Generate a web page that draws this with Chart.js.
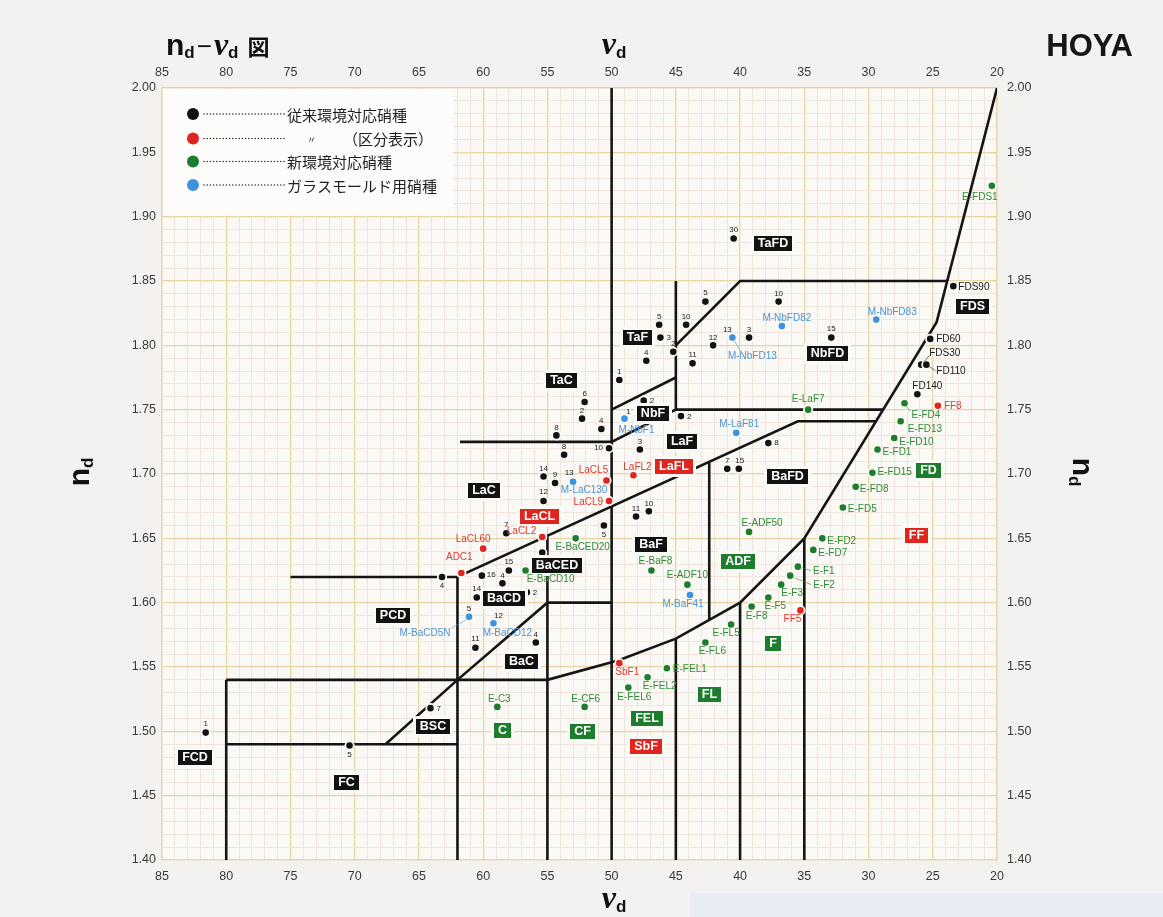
<!DOCTYPE html>
<html>
<head>
<meta charset="utf-8">
<script src="https://cdn.jsdelivr.net/npm/chart.js@4.4.1/dist/chart.umd.min.js"></script>
<style>
  html, body { margin: 0; padding: 0; background: #f4f2f1; }
  #wrap { position: relative; width: 1163px; height: 917px; }
  canvas { display: block; }
</style>
</head>
<body>
<div id="wrap"><canvas id="abbe" width="1163" height="917"></canvas></div>
<script>
// ---- axis tick labels ----
const xTickLabels = [85, 80, 75, 70, 65, 60, 55, 50, 45, 40, 35, 30, 25, 20];
const yTickLabels = ['1.40', '1.45', '1.50', '1.55', '1.60', '1.65', '1.70', '1.75', '1.80', '1.85', '1.90', '1.95', '2.00'];

// ---- conventional glasses (black), numbered ----
const stdNums = ['30', '5', '5', '10', '3', '2', '4', '11', '12', '3', '10', '15', '1', '2', '2', '6', '2', '4', '8', '8',
                 '10', '3', '8', '7', '15', '14', '9', '12', '7', '18', '11', '10', '5', '4', '16', '15', '4', '2', '14', '4',
                 '11', '7', '5', '1'];
const stdVd = [40.5, 42.7, 46.3, 44.2, 46.2, 45.2, 47.3, 43.7, 42.1, 39.3, 37.0, 32.9, 49.4, 47.5, 44.6, 52.1, 52.3, 50.8, 54.3, 53.7,
               50.2, 47.8, 37.8, 41.0, 40.1, 55.3, 54.4, 55.3, 58.2, 55.4, 48.1, 47.1, 50.6, 63.2, 60.1, 58.0, 58.5, 56.6, 60.5, 55.9,
               60.6, 64.1, 70.4, 81.6];
const stdNd = [1.883, 1.834, 1.816, 1.816, 1.806, 1.795, 1.788, 1.786, 1.800, 1.806, 1.834, 1.806, 1.773, 1.757, 1.745, 1.756, 1.743, 1.735, 1.730, 1.715,
               1.720, 1.719, 1.724, 1.704, 1.704, 1.698, 1.693, 1.679, 1.654, 1.639, 1.667, 1.671, 1.660, 1.620, 1.621, 1.625, 1.615, 1.608, 1.604, 1.569,
               1.565, 1.518, 1.489, 1.499];

// ---- conventional glasses (black), named ----
const stdNames = ['FDS90', 'FD60', 'FDS30', 'FD110', 'FD140'];
const stdNamedVd = [23.4, 25.2, 25.9, 25.5, 26.2];
const stdNamedNd = [1.846, 1.805, 1.785, 1.785, 1.762];

// ---- same family, shown by category (red) ----
const catNames = ['LaCL5', 'LaFL2', 'LaCL9', 'LaCL2', 'LaCL60', 'ADC1', 'SbF1', 'FF8', 'FF5'];
const catVd = [50.4, 48.3, 50.2, 55.4, 60.0, 61.7, 49.4, 24.6, 35.3];
const catNd = [1.695, 1.699, 1.679, 1.651, 1.642, 1.623, 1.553, 1.753, 1.594];

// ---- eco glasses (green) ----
const ecoNames = ['E-FDS1', 'E-LaF7', 'E-FD4', 'E-FD13', 'E-FD10', 'E-FD1', 'E-FD15', 'E-FD8', 'E-FD5', 'E-FD2', 'E-FD7',
                  'E-F1', 'E-F2', 'E-F3', 'E-F5', 'E-F8', 'E-ADF50', 'E-BaF8', 'E-ADF10', 'E-FL5', 'E-FL6',
                  'E-FEL1', 'E-FEL2', 'E-FEL6', 'E-C3', 'E-CF6', 'E-BaCED20', 'E-BaCD10'];
const ecoVd = [20.4, 34.7, 27.2, 27.5, 28.0, 29.3, 29.7, 31.0, 32.0, 33.6, 34.3,
               35.5, 36.1, 36.8, 37.8, 39.1, 39.3, 46.9, 44.1, 40.7, 42.7,
               45.7, 47.2, 48.7, 58.9, 52.1, 52.8, 56.7];
const ecoNd = [1.924, 1.750, 1.755, 1.741, 1.728, 1.719, 1.701, 1.690, 1.674, 1.650, 1.641,
               1.628, 1.621, 1.614, 1.604, 1.597, 1.655, 1.625, 1.614, 1.583, 1.569,
               1.549, 1.542, 1.534, 1.519, 1.519, 1.650, 1.625];

// ---- glasses for precision moulding (blue) ----
const moldNames = ['M-NbFD82', 'M-NbFD83', 'M-NbFD13', 'M-NbF1', 'M-LaF81', 'M-LaC130', 'M-BaF41', 'M-BaCD5N', 'M-BaCD12'];
const moldNums = ['', '', '13', '1', '', '13', '', '5', '12'];
const moldVd = [36.75, 29.4, 40.6, 49.0, 40.3, 53.0, 43.9, 61.1, 59.2];
const moldNd = [1.815, 1.820, 1.806, 1.743, 1.732, 1.694, 1.606, 1.589, 1.584];

// ---- glass type regions ----
const regionNames = ['TaFD', 'FDS', 'TaF', 'NbFD', 'TaC', 'NbF', 'LaF', 'LaFL', 'BaFD', 'FD', 'LaC', 'LaCL', 'BaF', 'BaCED',
                     'ADF', 'FF', 'BaCD', 'PCD', 'F', 'BaC', 'FL', 'BSC', 'FEL', 'C', 'CF', 'SbF', 'FCD', 'FC'];
const regionVd = [37.4, 21.9, 48.0, 33.2, 53.9, 46.8, 44.5, 45.15, 36.3, 25.3, 59.9, 55.65, 46.95, 54.25,
                  40.2, 26.3, 58.4, 67.0, 37.45, 57.0, 42.35, 63.9, 47.25, 58.5, 52.3, 47.3, 82.4, 70.6];
const regionNd = [1.879, 1.830, 1.806, 1.794, 1.773, 1.747, 1.725, 1.706, 1.698, 1.7025, 1.687, 1.667, 1.6455, 1.629,
                  1.632, 1.652, 1.603, 1.590, 1.5686, 1.5546, 1.529, 1.504, 1.5096, 1.501, 1.4995, 1.4886, 1.480, 1.460];
const regionTone = ['k', 'k', 'k', 'k', 'k', 'k', 'k', 'r', 'k', 'g', 'k', 'r', 'k', 'k',
                    'g', 'r', 'k', 'k', 'g', 'k', 'g', 'k', 'g', 'g', 'g', 'r', 'k', 'k'];

// ---- region boundary lines (vd, nd) ----
const edgeMain  = [[80, 1.54], [55, 1.54], [49.5, 1.555], [45, 1.572], [40, 1.60], [35, 1.65], [24.7, 1.818], [20, 2.00]];
const edgeFC    = [[80, 1.49], [62, 1.49]];
const edgeFCD   = [[80, 1.40], [80, 1.54]];
const edgeBSC   = [[67.6, 1.49], [62, 1.54], [55, 1.60], [50, 1.60]];
const edgePCD   = [[75, 1.62], [62, 1.62]];
const edgeV62   = [[62, 1.40], [62, 1.62]];
const edgeLaCL  = [[62, 1.62], [35.5, 1.741], [29.4, 1.741]];
const edgeV55   = [[55, 1.40], [55, 1.652]];
const edgeV50   = [[50, 1.40], [50, 2.00]];
const edgeV45   = [[45, 1.40], [45, 1.572]];
const edgeV42   = [[42.4, 1.587], [42.4, 1.709]];
const edgeV40   = [[40, 1.40], [40, 1.60]];
const edgeV35   = [[35, 1.40], [35, 1.65]];
const edgeLaC   = [[61.8, 1.725], [50, 1.725], [45, 1.75], [28.87, 1.75]];
const edgeNbF   = [[50, 1.75], [45, 1.775]];
const edgeV45Up = [[45, 1.75], [45, 1.85]];
const edgeTaF   = [[45, 1.80], [40, 1.85], [23.87, 1.85]];
const edges = [edgeMain, edgeFC, edgeFCD, edgeBSC, edgePCD, edgeV62, edgeLaCL, edgeV55, edgeV50,
               edgeV45, edgeV42, edgeV40, edgeV35, edgeLaC, edgeNbF, edgeV45Up, edgeTaF];

// ---- label placement (pixel offsets from the dot, text alignment, optional leader) ----
const stdNumPlace = [[0,-9,'center'],[0,-9,'center'],[0,-8,'center'],[0,-8,'center'],[6,0,'left'],[0,-8,'center'],[0,-8,'center'],
  [0,-9,'center'],[0,-8,'center'],[0,-8,'center'],[0,-8,'center'],[0,-9,'center'],[0,-8,'center'],[6,0,'left'],[6,1,'left'],
  [0,-8,'center'],[0,-8,'center'],[0,-8,'center'],[0,-8,'center'],[0,-8,'center'],[-6,0,'right'],[0,-8,'center'],[6,0,'left'],
  [0,-8,'center'],[1,-8,'center'],[0,-8,'center'],[0,-8,'center'],[0,-9,'center'],[0,-8,'center'],[0,8,'center'],[0,-8,'center'],
  [0,-8,'center'],[0,9,'center'],[0,9,'center'],[5,-1,'left'],[0,-9,'center'],[0,-8,'center'],[6,0,'left'],[0,-9,'center'],
  [0,-8,'center'],[0,-9,'center'],[6,1,'left'],[0,9,'center'],[0,-9,'center']];
const stdNamePlace = [[5,1,'left'],[6,0,'left'],[8,-11,'left',[3,-3,8,-9]],[10,7,'left',[3,2,9,6]],[10,-8,'center']];
const catPlace = [[-13,-10,'center'],[4,-8,'center'],[-6,1,'right'],[-6,-6,'right'],[-10,-9,'center'],[-2,-16,'center'],
  [8,9,'center'],[6,0,'left'],[-8,9,'center']];
const ecoPlace = [[-12,11,'center'],[0,-10,'center'],[7,12,'left',[2,3,6,8]],[7,8,'left'],[5,4,'left'],[5,3,'left'],[5,0,'left'],
  [4,2,'left'],[5,2,'left'],[5,3,'left'],[5,3,'left'],[15,5,'left',[4,1,13,4]],[23,10,'left',[4,2,21,9]],[11,9,'center'],
  [7,9,'center'],[5,10,'center'],[13,-9,'center'],[4,-9,'center'],[0,-9,'center'],[-5,9,'center'],[7,9,'center'],[6,1,'left'],
  [12,9,'center'],[6,10,'center'],[2,-8,'center'],[1,-8,'center'],[7,9,'center'],[25,9,'center']];
const moldPlace = [[5,-8,'center'],[16,-7,'center'],[20,19,'center',[2,3,8,13]],[12,12,'center'],[3,-9,'center'],[11,9,'center'],
  [-7,9,'center'],[-44,16,'center',[-3,3,-17,11]],[14,10,'center']];
const moldNumPlace = [null, null, [-5,-8], [4,-7], null, [-4,-9], null, [0,-8], [5,-7]];

// ---- colours ----
const PAPER = '#fbf9f5', MAJOR = '#e6d5a6', MINOR = '#f0e5dc';
const INK = { k: '#121212', r: '#e0241e', g: '#1d7d2c', b: '#3d92de' };
const TXT = { k: '#1a1a1a', r: '#dd3a32', g: '#2f8a3a', b: '#4b95d8' };
const SANS = '"Liberation Sans", Arial, sans-serif';
const CJK = '"Noto Sans CJK JP", sans-serif';

const pts = (vx, vy) => vx.map((v, i) => ({ x: v, y: vy[i] }));

const edgeSets = edges.map(e => ({
  type: 'scatter', label: '', data: e.map(p => ({ x: p[0], y: p[1] })),
  showLine: true, borderColor: '#151515', borderWidth: 2.6, pointRadius: 0, order: 5, tension: 0
}));

const dotStyle = (col) => ({
  pointRadius: 4.2, pointBackgroundColor: col, pointBorderColor: PAPER, pointBorderWidth: 1.8,
  showLine: false, order: 1
});

const glassSets = [
  Object.assign({ type: 'scatter', label: '従来環境対応硝種', tone: 'k',
    data: pts(stdVd.concat(stdNamedVd), stdNd.concat(stdNamedNd)) }, dotStyle(INK.k)),
  Object.assign({ type: 'scatter', label: '〃\t（区分表示）', tone: 'r', data: pts(catVd, catNd) }, dotStyle(INK.r)),
  Object.assign({ type: 'scatter', label: '新環境対応硝種', tone: 'g', data: pts(ecoVd, ecoNd) }, dotStyle(INK.g)),
  Object.assign({ type: 'scatter', label: 'ガラスモールド用硝種', tone: 'b', data: pts(moldVd, moldNd) }, dotStyle(INK.b))
];

function tag(ctx, text, px, py, place, font, color) {
  const [dx, dy, align, lead] = place;
  if (lead) {
    ctx.save();
    ctx.strokeStyle = color; ctx.globalAlpha = 0.75; ctx.lineWidth = 0.8;
    ctx.beginPath(); ctx.moveTo(px + lead[0], py + lead[1]); ctx.lineTo(px + lead[2], py + lead[3]); ctx.stroke();
    ctx.restore();
  }
  ctx.font = font; ctx.fillStyle = color; ctx.textAlign = align; ctx.textBaseline = 'middle';
  ctx.fillText(text, px + dx, py + dy);
}

function run(ctx, parts, x, y) {
  // draws a sequence of text runs along a baseline, returns the end x
  let cx = x;
  parts.forEach(p => {
    ctx.font = p.f; ctx.fillStyle = p.c || '#111'; ctx.textAlign = 'left'; ctx.textBaseline = 'alphabetic';
    ctx.fillText(p.t, cx, y + (p.dy || 0));
    cx += ctx.measureText(p.t).width + (p.gap || 0);
  });
  return cx;
}
function runWidth(ctx, parts) {
  let w = 0;
  parts.forEach(p => { ctx.font = p.f; w += ctx.measureText(p.t).width + (p.gap || 0); });
  return w;
}

const sheet = {
  id: 'sheet',
  beforeDraw(chart) {
    const { ctx, chartArea: a } = chart;
    ctx.save();
    ctx.fillStyle = '#f4f2f1';
    ctx.fillRect(0, 0, chart.width, chart.height);
    ctx.fillStyle = '#e7ecf5';
    ctx.fillRect(690, 893, chart.width - 690, chart.height - 893);
    ctx.fillStyle = PAPER;
    ctx.fillRect(a.left, a.top, a.right - a.left, a.bottom - a.top);
    ctx.restore();
  },
  beforeDatasetsDraw(chart) {
    // blank panel that carries the legend
    const { ctx, scales: { x, y } } = chart;
    const l = x.getPixelForValue(85), r = x.getPixelForValue(62.3);
    const t = y.getPixelForValue(2.0), b = y.getPixelForValue(1.90);
    ctx.save();
    ctx.fillStyle = '#fdfcfa';
    ctx.fillRect(l + 1, t + 1, r - l - 1, b - t - 2);
    ctx.restore();
  },
  afterDatasetsDraw(chart) {
    const { ctx, scales: { x, y } } = chart;
    ctx.save();
    // region name boxes
    regionNames.forEach((name, i) => {
      const cx = x.getPixelForValue(regionVd[i]), cy = y.getPixelForValue(regionNd[i]);
      ctx.font = 'bold 12.5px ' + SANS;
      const w = Math.round(ctx.measureText(name).width + 8), h = 15;
      const lx = Math.round(cx - w / 2), ty = Math.round(cy - h / 2);
      ctx.fillStyle = PAPER;
      ctx.fillRect(lx - 3, ty - 3, w + 6, h + 6);
      ctx.fillStyle = INK[regionTone[i]];
      ctx.fillRect(lx, ty, w, h);
      ctx.fillStyle = '#ffffff'; ctx.textAlign = 'center'; ctx.textBaseline = 'middle';
      ctx.fillText(name, lx + w / 2, ty + h / 2 + 0.5);
    });

    const NUM = '8px ' + SANS, NAME = '10px ' + SANS;
    stdNums.forEach((n, i) => tag(ctx, n, x.getPixelForValue(stdVd[i]), y.getPixelForValue(stdNd[i]), stdNumPlace[i], NUM, '#222'));
    stdNames.forEach((n, i) => tag(ctx, n, x.getPixelForValue(stdNamedVd[i]), y.getPixelForValue(stdNamedNd[i]), stdNamePlace[i], NAME, TXT.k));
    catNames.forEach((n, i) => tag(ctx, n, x.getPixelForValue(catVd[i]), y.getPixelForValue(catNd[i]), catPlace[i], NAME, TXT.r));
    ecoNames.forEach((n, i) => tag(ctx, n, x.getPixelForValue(ecoVd[i]), y.getPixelForValue(ecoNd[i]), ecoPlace[i], NAME, TXT.g));
    moldNames.forEach((n, i) => {
      const px = x.getPixelForValue(moldVd[i]), py = y.getPixelForValue(moldNd[i]);
      tag(ctx, n, px, py, moldPlace[i], NAME, TXT.b);
      if (moldNums[i]) tag(ctx, moldNums[i], px, py, [moldNumPlace[i][0], moldNumPlace[i][1], 'center'], NUM, '#222');
    });

    // legend
    const lx = 193, rows = [114, 138.5, 161.5, 185];
    chart.data.datasets.filter(d => d.tone).forEach((d, i) => {
      const yy = rows[i];
      ctx.fillStyle = INK[d.tone];
      ctx.beginPath(); ctx.arc(lx, yy, 6, 0, Math.PI * 2); ctx.fill();
      ctx.fillStyle = '#333';
      for (let dx = 204; dx <= 284; dx += 3.2) { ctx.beginPath(); ctx.arc(dx, yy, 0.8, 0, Math.PI * 2); ctx.fill(); }
      ctx.fillStyle = '#1e1e1e'; ctx.textAlign = 'left'; ctx.textBaseline = 'middle';
      const parts = d.label.split('\t');
      if (parts.length > 1) {
        ctx.font = '9px ' + CJK; ctx.fillText(parts[0], 307, yy + 1);
        ctx.font = '15px ' + CJK; ctx.fillText(parts[1], 343, yy + 1);
      } else {
        ctx.font = '15px ' + CJK; ctx.fillText(parts[0], 287, yy + 1);
      }
    });
    ctx.restore();
  },
  afterDraw(chart) {
    const { ctx } = chart;
    ctx.save();
    const B = 'bold 30px ' + SANS, SUB = 'bold 17px ' + SANS, NU = 'italic bold 32px "Liberation Serif", serif';
    // diagram title
    run(ctx, [
      { t: 'n', f: B }, { t: 'd', f: SUB, dy: 3, gap: 2 }, { t: '−', f: '26px ' + SANS, gap: 2 },
      { t: 'ν', f: NU }, { t: 'd', f: SUB, dy: 3, gap: 9 }, { t: '図', f: 'bold 22px ' + CJK }
    ], 166, 55);
    // vendor mark
    ctx.font = 'bold 31px ' + SANS; ctx.fillStyle = '#161616'; ctx.textAlign = 'right'; ctx.textBaseline = 'alphabetic';
    ctx.fillText('HOYA', 1133, 56);
    // ν_d on top and bottom
    const nuParts = [{ t: 'ν', f: NU }, { t: 'd', f: SUB, dy: 4 }];
    const wNu = runWidth(ctx, nuParts);
    run(ctx, nuParts, 614 - wNu / 2, 54);
    run(ctx, nuParts, 614 - wNu / 2, 908);
    // n_d on both sides
    const ndParts = [{ t: 'n', f: 'bold 30px ' + SANS }, { t: 'd', f: SUB, dy: 4 }];
    const wNd = runWidth(ctx, ndParts);
    ctx.save(); ctx.translate(89, 472); ctx.rotate(-Math.PI / 2); run(ctx, ndParts, -wNd / 2, 0); ctx.restore();
    ctx.save(); ctx.translate(1073, 472); ctx.rotate(Math.PI / 2); run(ctx, ndParts, -wNd / 2, 0); ctx.restore();
    ctx.restore();
  }
};

const tickFont = { family: '"Liberation Sans", Arial, sans-serif', size: 12.5 };
const xLabel = v => { const r = Math.round(v); return xTickLabels.includes(r) && Math.abs(v - r) < 1e-6 ? String(r) : ''; };
const yLabel = v => { const s = v.toFixed(2); return yTickLabels.includes(s) && Math.abs(v - parseFloat(s)) < 1e-6 ? s : ''; };
const xGridCol = c => (c.tick && Math.round(c.tick.value) % 5 === 0) ? MAJOR : MINOR;
const yGridCol = c => (c.tick && Math.round(c.tick.value * 100) % 5 === 0) ? MAJOR : MINOR;
const xGridW = c => (c.tick && Math.round(c.tick.value) % 5 === 0) ? 1.3 : 1;
const yGridW = c => (c.tick && Math.round(c.tick.value * 100) % 5 === 0) ? 1.3 : 1;

new Chart(document.getElementById('abbe'), {
  type: 'scatter',
  data: { datasets: glassSets.concat(edgeSets) },
  options: {
    responsive: false, animation: false, devicePixelRatio: 1, events: [],
    layout: { padding: 0 },
    plugins: { legend: { display: false }, tooltip: { enabled: false }, title: { display: false } },
    scales: {
      x: {
        type: 'linear', position: 'bottom', min: 20, max: 85, reverse: true,
        afterFit: s => { s.height = 57; },
        ticks: { stepSize: 1, autoSkip: false, maxRotation: 0, padding: 9, color: '#3a3a3a', font: tickFont, callback: xLabel },
        grid: { color: xGridCol, lineWidth: xGridW, drawTicks: false },
        border: { display: true, color: MAJOR, width: 1.3 }
      },
      xTop: {
        type: 'linear', position: 'top', min: 20, max: 85, reverse: true,
        afterFit: s => { s.height = 88; },
        ticks: { stepSize: 1, autoSkip: false, maxRotation: 0, padding: 8, color: '#3a3a3a', font: tickFont, callback: xLabel },
        grid: { display: false, drawTicks: false },
        border: { display: true, color: MAJOR, width: 1.3 }
      },
      y: {
        type: 'linear', position: 'left', min: 1.40, max: 2.00,
        afterFit: s => { s.width = 162; },
        ticks: { stepSize: 0.01, autoSkip: false, padding: 6, color: '#3a3a3a', font: tickFont, callback: yLabel },
        grid: { color: yGridCol, lineWidth: yGridW, drawTicks: false },
        border: { display: true, color: MAJOR, width: 1.3 }
      },
      yRight: {
        type: 'linear', position: 'right', min: 1.40, max: 2.00,
        afterFit: s => { s.width = 166; },
        ticks: { stepSize: 0.01, autoSkip: false, padding: 10, color: '#3a3a3a', font: tickFont, callback: yLabel },
        grid: { display: false, drawTicks: false },
        border: { display: true, color: MAJOR, width: 1.3 }
      }
    }
  },
  plugins: [sheet]
});
</script>
</body>
</html>
